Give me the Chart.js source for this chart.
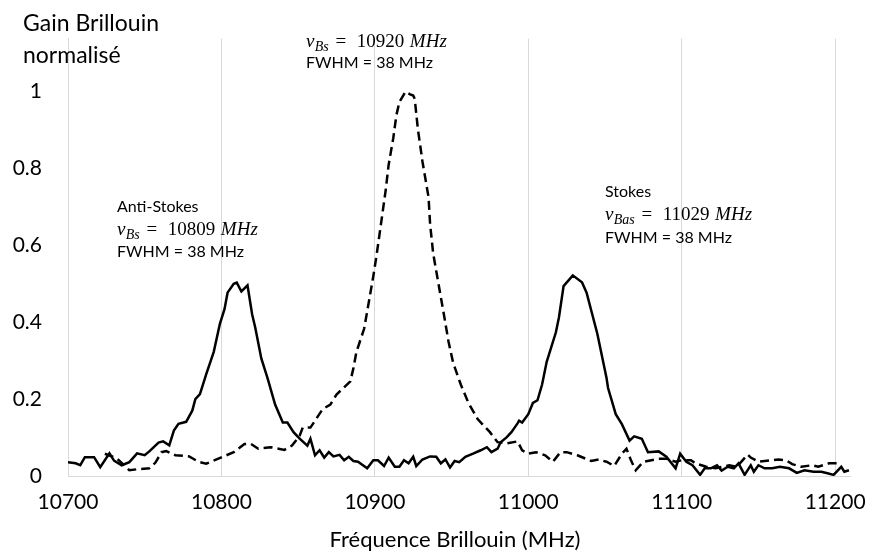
<!DOCTYPE html>
<html>
<head>
<meta charset="utf-8">
<script src="https://cdn.jsdelivr.net/npm/chart.js@4.4.1/dist/chart.umd.min.js"></script>
<style>
  html, body { margin: 0; padding: 0; background: #fff; }
  #wrap { width: 880px; height: 555px; }
</style>
</head>
<body>
<div id="wrap"><canvas id="myChart" width="880" height="555"></canvas></div>
<script>
// courbe en trait plein (anti-Stokes + Stokes)
const freqSolid = [10700, 10705, 10708, 10711, 10717, 10721, 10727, 10730, 10735, 10740, 10745, 10750, 10753, 10759, 10762, 10766, 10769, 10772, 10777, 10781, 10783, 10786, 10790, 10795, 10799, 10802, 10804, 10808, 10810, 10813, 10817, 10820, 10822, 10826, 10830, 10835, 10840, 10843, 10847, 10851, 10856, 10858, 10861, 10864, 10867, 10870, 10873, 10877, 10880, 10883, 10886, 10889, 10895, 10899, 10902, 10906, 10909, 10913, 10916, 10919, 10922, 10925, 10927, 10931, 10936, 10940, 10943, 10946, 10949, 10952, 10955, 10959, 10964, 10969, 10973, 10976, 10980, 10982, 10986, 10989, 10993, 10994, 10996, 11000, 11003, 11006, 11009, 11012, 11018, 11020, 11023, 11029, 11035, 11038, 11045, 11051, 11052, 11057, 11061, 11066, 11069, 11074, 11078, 11085, 11090, 11096, 11099, 11103, 11107, 11112, 11115, 11119, 11123, 11126, 11130, 11134, 11137, 11141, 11145, 11147, 11150, 11154, 11159, 11164, 11170, 11175, 11180, 11186, 11191, 11195, 11199, 11204, 11206, 11209];
const gainSolid = [0.036, 0.033, 0.028, 0.049, 0.049, 0.023, 0.059, 0.040, 0.028, 0.036, 0.059, 0.054, 0.064, 0.087, 0.090, 0.080, 0.118, 0.136, 0.141, 0.170, 0.200, 0.213, 0.264, 0.323, 0.396, 0.434, 0.477, 0.500, 0.503, 0.480, 0.496, 0.421, 0.387, 0.306, 0.255, 0.186, 0.139, 0.139, 0.114, 0.097, 0.079, 0.097, 0.054, 0.067, 0.048, 0.062, 0.051, 0.055, 0.041, 0.050, 0.039, 0.037, 0.020, 0.041, 0.041, 0.026, 0.048, 0.024, 0.024, 0.041, 0.033, 0.050, 0.026, 0.043, 0.051, 0.050, 0.033, 0.043, 0.022, 0.039, 0.036, 0.050, 0.058, 0.067, 0.075, 0.062, 0.071, 0.088, 0.101, 0.114, 0.137, 0.144, 0.139, 0.161, 0.190, 0.197, 0.238, 0.297, 0.374, 0.413, 0.494, 0.522, 0.504, 0.477, 0.370, 0.255, 0.229, 0.161, 0.135, 0.092, 0.103, 0.097, 0.062, 0.064, 0.050, 0.020, 0.058, 0.037, 0.028, 0.003, 0.020, 0.020, 0.028, 0.014, 0.024, 0.020, 0.033, 0.003, 0.028, 0.011, 0.028, 0.020, 0.020, 0.024, 0.020, 0.008, 0.015, 0.011, 0.011, 0.007, 0.003, 0.024, 0.011, 0.015];

// courbe en pointillés (pic central)
const freqDashed = [10724, 10728, 10732, 10736, 10740, 10746, 10753, 10757, 10761, 10764, 10770, 10779, 10785, 10790, 10798, 10808, 10815, 10819, 10824, 10832, 10841, 10846, 10851, 10853, 10858, 10861, 10866, 10871, 10875, 10884, 10886, 10888, 10893, 10896, 10899, 10901, 10904, 10907, 10909, 10912, 10914, 10916, 10920, 10923, 10925, 10926, 10928, 10931, 10935, 10936, 10938, 10941, 10945, 10948, 10951, 10956, 10961, 10967, 10975, 10980, 10986, 10993, 10996, 11000, 11005, 11011, 11016, 11021, 11025, 11032, 11041, 11046, 11051, 11056, 11061, 11064, 11067, 11070, 11075, 11085, 11090, 11096, 11100, 11106, 11109, 11116, 11122, 11131, 11136, 11143, 11145, 11150, 11159, 11163, 11168, 11172, 11178, 11185, 11189, 11196, 11201];
const gainDashed = [0.058, 0.052, 0.045, 0.030, 0.015, 0.018, 0.020, 0.035, 0.062, 0.065, 0.054, 0.051, 0.037, 0.032, 0.045, 0.062, 0.083, 0.084, 0.071, 0.075, 0.068, 0.079, 0.105, 0.126, 0.126, 0.144, 0.174, 0.186, 0.212, 0.246, 0.280, 0.323, 0.383, 0.451, 0.520, 0.571, 0.656, 0.742, 0.810, 0.879, 0.938, 0.973, 1.000, 0.993, 0.990, 0.981, 0.904, 0.819, 0.725, 0.656, 0.579, 0.511, 0.420, 0.350, 0.295, 0.238, 0.190, 0.148, 0.114, 0.088, 0.085, 0.090, 0.067, 0.058, 0.062, 0.054, 0.037, 0.062, 0.062, 0.054, 0.039, 0.043, 0.037, 0.026, 0.058, 0.071, 0.040, 0.015, 0.037, 0.045, 0.045, 0.037, 0.041, 0.041, 0.033, 0.024, 0.020, 0.028, 0.024, 0.056, 0.048, 0.037, 0.041, 0.043, 0.041, 0.031, 0.024, 0.028, 0.024, 0.033, 0.033];

const xTicks = [10700, 10800, 10900, 11000, 11100, 11200];
const yTicks = [0, 0.2, 0.4, 0.6, 0.8, 1];

const FONT = "Lato, 'Open Sans', sans-serif";
const MATH = "'Liberation Serif', 'DejaVu Serif', serif";

function toPoints(xs, ys) {
    return xs.map((x, i) => ({x: x, y: ys[i]}));
}

// écrit  ν_sub =  valeur MHz  façon éditeur d'équations
function drawNu(ctx, x, y, sub, value, size) {
    ctx.textAlign = "left";
    ctx.textBaseline = "alphabetic";
    ctx.font = "italic " + size + "px " + MATH;
    ctx.fillText("\u03bd", x, y);
    x += ctx.measureText("\u03bd").width + size * 0.02;
    ctx.font = "italic " + Math.round(size * 0.72) + "px " + MATH;
    ctx.fillText(sub, x, y + size * 0.22);
    x += ctx.measureText(sub).width + size * 0.15;
    ctx.font = size + "px " + MATH;
    ctx.fillText("=", x + size * 0.2, y);
    x += ctx.measureText("=").width + size * 0.75;
    ctx.fillText(value, x, y);
    x += ctx.measureText(value).width + size * 0.3;
    ctx.font = "italic " + size + "px " + MATH;
    ctx.fillText("MHz", x, y);
}

const labelsPlugin = {
    id: "labels",
    afterDraw(chart) {
        const ctx = chart.ctx;
        ctx.save();
        ctx.fillStyle = "#000";
        ctx.textAlign = "left";
        ctx.textBaseline = "alphabetic";

        // titre axe Y
        ctx.font = "23px " + FONT;
        ctx.fillText("Gain Brillouin", 23, 31);
        ctx.fillText("normalisé", 23, 63);

        // titre axe X
        ctx.textAlign = "center";
        ctx.font = "22px " + FONT;
        ctx.fillText("Fréquence Brillouin (MHz)", 455, 547);

        // pic central
        drawNu(ctx, 306, 47, "Bs", "10920", 19);
        ctx.font = "16px " + FONT;
        ctx.textAlign = "left";
        ctx.fillText("FWHM = 38 MHz", 306, 68);

        // anti-Stokes
        ctx.font = "16px " + FONT;
        ctx.fillText("Anti-Stokes", 117, 212);
        drawNu(ctx, 117, 235, "Bs", "10809", 19);
        ctx.font = "16px " + FONT;
        ctx.fillText("FWHM = 38 MHz", 117, 257);

        // Stokes
        ctx.fillText("Stokes", 605, 197);
        drawNu(ctx, 605, 220, "Bas", "11029", 19);
        ctx.font = "16px " + FONT;
        ctx.fillText("FWHM = 38 MHz", 605, 243);

        ctx.restore();
    }
};

const ctx = document.getElementById("myChart").getContext("2d");

const myChart = new Chart(ctx, {
    type: "line",
    data: {
        datasets: [{
            label: "Pompe",
            data: toPoints(freqSolid, gainSolid),
            borderColor: "#000",
            borderWidth: 2.5,
            pointRadius: 0,
            tension: 0,
            fill: false
        }, {
            label: "Sonde",
            data: toPoints(freqDashed, gainDashed),
            borderColor: "#000",
            borderWidth: 2.5,
            borderDash: [9, 5],
            pointRadius: 0,
            tension: 0,
            fill: false
        }]
    },
    options: {
        responsive: false,
        maintainAspectRatio: false,
        animation: false,
        devicePixelRatio: 1,
        layout: {
            padding: {top: 32, right: 21, left: 0, bottom: 0}
        },
        plugins: {
            legend: {display: false},
            tooltip: {enabled: false}
        },
        scales: {
            x: {
                type: "linear",
                min: 10700,
                max: 11210,
                afterBuildTicks: (scale) => { scale.ticks = xTicks.map(v => ({value: v})); },
                afterFit: (scale) => { scale.height = 79; },
                ticks: {
                    color: "#000",
                    font: {family: FONT, size: 21},
                    padding: 14,
                    maxRotation: 0,
                    callback: (v) => String(v)
                },
                grid: {
                    color: "#d9d9d9",
                    lineWidth: 1,
                    drawTicks: false
                },
                border: {color: "#d9d9d9", width: 1}
            },
            y: {
                min: 0,
                max: 1.138,
                afterBuildTicks: (scale) => { scale.ticks = yTicks.map(v => ({value: v})); },
                afterFit: (scale) => { scale.width = 68; },
                ticks: {
                    color: "#000",
                    font: {family: FONT, size: 21},
                    padding: 26,
                    callback: (v) => String(Math.round(v * 10) / 10)
                },
                grid: {display: false, drawTicks: false},
                border: {color: "#d9d9d9", width: 1}
            }
        }
    },
    plugins: [labelsPlugin]
});
</script>
</body>
</html>
